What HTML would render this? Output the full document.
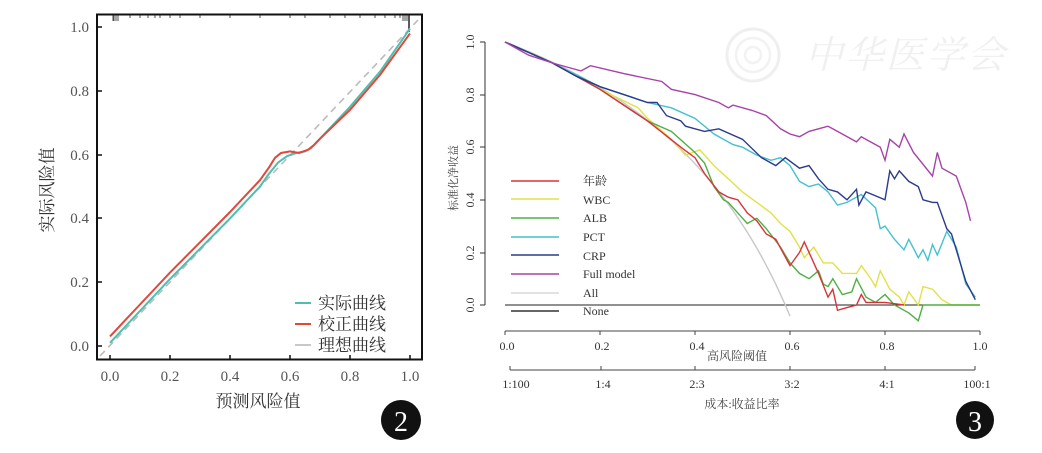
<!DOCTYPE html>
<html><head><meta charset="utf-8"><style>
html,body{margin:0;padding:0;background:#fff;width:1042px;height:453px;overflow:hidden}
svg text{font-family:"Liberation Serif","Noto Serif CJK SC","Noto Sans CJK SC",serif}
</style></head><body>
<svg id="s" width="1042" height="453" viewBox="0 0 1042 453" xmlns="http://www.w3.org/2000/svg">
<!-- watermark -->
<g>
<circle cx="753" cy="55" r="26" fill="none" stroke="#efefef" stroke-width="3"/>
<circle cx="753" cy="55" r="17" fill="none" stroke="#f2f2f2" stroke-width="2.5"/>
<circle cx="753" cy="55" r="8" fill="none" stroke="#f2f2f2" stroke-width="2.5"/>
<text x="805" y="68" font-size="38" fill="#f0f0f0" font-style="italic" textLength="200">中华医学会</text>
</g>

<!-- LEFT CHART -->
<rect x="97" y="14.5" width="325" height="345" fill="none" stroke="#111" stroke-width="2"/>
<g stroke="#222" stroke-width="0.8" id="rug"></g>
<g font-size="15" fill="#555" text-anchor="end">
<text x="89" y="351">0.0</text><text x="89" y="287">0.2</text><text x="89" y="223">0.4</text>
<text x="89" y="160">0.6</text><text x="89" y="96">0.8</text><text x="89" y="32">1.0</text>
</g>
<g stroke="#111" stroke-width="1.5">
<line x1="97" y1="346" x2="102" y2="346"/><line x1="97" y1="282" x2="102" y2="282"/><line x1="97" y1="218" x2="102" y2="218"/>
<line x1="97" y1="155" x2="102" y2="155"/><line x1="97" y1="91" x2="102" y2="91"/><line x1="97" y1="27" x2="102" y2="27"/>
<line x1="110" y1="360" x2="110" y2="355"/><line x1="170" y1="360" x2="170" y2="355"/><line x1="230" y1="360" x2="230" y2="355"/>
<line x1="290" y1="360" x2="290" y2="355"/><line x1="350" y1="360" x2="350" y2="355"/><line x1="410" y1="360" x2="410" y2="355"/>
</g>
<g font-size="15" fill="#555" text-anchor="middle">
<text x="110" y="381">0.0</text><text x="170" y="381">0.2</text><text x="230" y="381">0.4</text>
<text x="290" y="381">0.6</text><text x="350" y="381">0.8</text><text x="410" y="381">1.0</text>
</g>
<text x="258" y="407" font-size="17" fill="#333" text-anchor="middle">预测风险值</text>
<text transform="translate(53,190) rotate(-90)" font-size="17" fill="#333" text-anchor="middle">实际风险值</text>
<line x1="100" y1="356" x2="418" y2="20" stroke="#bbb" stroke-width="1.6" stroke-dasharray="7,5"/>
<path id="lc" fill="none" stroke="#4cc0b0" stroke-width="2"/>
<path id="lr" fill="none" stroke="#e0483a" stroke-width="2"/>
<line x1="295" y1="303" x2="311" y2="303" stroke="#4cc0b0" stroke-width="2"/>
<line x1="295" y1="324" x2="311" y2="324" stroke="#e0483a" stroke-width="2"/>
<line x1="295" y1="345" x2="311" y2="345" stroke="#bbb" stroke-width="1.6"/>
<g font-size="17" fill="#333"><text x="318" y="309">实际曲线</text><text x="318" y="330">校正曲线</text><text x="318" y="351">理想曲线</text></g>
<circle cx="401" cy="420" r="20" fill="#111"/>
<text x="401" y="431" font-size="28" fill="#fff" text-anchor="middle">2</text>

<!-- RIGHT CHART -->
<line x1="485" y1="42" x2="485" y2="305" stroke="#333" stroke-width="1"/>
<g stroke="#333"><line x1="485" y1="42" x2="480" y2="42"/><line x1="485" y1="95" x2="480" y2="95"/><line x1="485" y1="147" x2="480" y2="147"/><line x1="485" y1="200" x2="480" y2="200"/><line x1="485" y1="253" x2="480" y2="253"/><line x1="485" y1="305" x2="480" y2="305"/></g>
<g font-size="12" fill="#333" text-anchor="middle">
<text transform="translate(474,305) rotate(-90)">0.0</text><text transform="translate(474,253) rotate(-90)">0.2</text>
<text transform="translate(474,200) rotate(-90)">0.4</text><text transform="translate(474,147) rotate(-90)">0.6</text>
<text transform="translate(474,95) rotate(-90)">0.8</text><text transform="translate(474,42) rotate(-90)">1.0</text>
</g>
<text transform="translate(457,178) rotate(-90)" font-size="11" fill="#444" text-anchor="middle">标准化净收益</text>
<line x1="505" y1="331" x2="980" y2="331" stroke="#444"/>
<g stroke="#444"><line x1="505" y1="331" x2="505" y2="335"/><line x1="600" y1="331" x2="600" y2="335"/><line x1="695" y1="331" x2="695" y2="335"/><line x1="790" y1="331" x2="790" y2="335"/><line x1="885" y1="331" x2="885" y2="335"/><line x1="980" y1="331" x2="980" y2="335"/></g>
<g font-size="12" fill="#333" text-anchor="middle">
<text x="507" y="350">0.0</text><text x="602" y="350">0.2</text><text x="697" y="350">0.4</text><text x="792" y="350">0.6</text><text x="887" y="350">0.8</text><text x="980" y="350">1.0</text>
</g>
<text x="737" y="360" font-size="12" fill="#444" text-anchor="middle">高风险阈值</text>
<line x1="510" y1="370" x2="975" y2="370" stroke="#444"/>
<g stroke="#444"><line x1="510" y1="370" x2="510" y2="366"/><line x1="601" y1="370" x2="601" y2="366"/><line x1="695" y1="370" x2="695" y2="366"/><line x1="790" y1="370" x2="790" y2="366"/><line x1="885" y1="370" x2="885" y2="366"/><line x1="975" y1="370" x2="975" y2="366"/></g>
<g font-size="12" fill="#333" text-anchor="middle">
<text x="516" y="388">1:100</text><text x="603" y="388">1:4</text><text x="697" y="388">2:3</text><text x="792" y="388">3:2</text><text x="887" y="388">4:1</text><text x="977" y="388">100:1</text>
</g>
<text x="742" y="408" font-size="12" fill="#444" text-anchor="middle">成本:收益比率</text>
<line x1="505" y1="305" x2="980" y2="305" stroke="#222" stroke-width="1"/>
<g id="series"></g>
<g id="legend"></g>
<circle cx="975" cy="420" r="19" fill="#111"/>
<text x="975" y="431" font-size="28" fill="#fff" text-anchor="middle">3</text>
<g font-size="12" fill="#333">
<text x="583" y="185">年龄</text><text x="583" y="204">WBC</text><text x="583" y="222">ALB</text><text x="583" y="241">PCT</text>
<text x="583" y="260">CRP</text><text x="583" y="278">Full model</text><text x="583" y="297">All</text><text x="583" y="315">None</text>
</g>
</svg>
<script>
var NS="http://www.w3.org/2000/svg";
function P(pts,fx,fy){return pts.map(function(p,i){return (i?"L":"M")+fx(p[0]).toFixed(1)+","+fy(p[1]).toFixed(1)}).join("");}
var lx=function(t){return 110+t*300},ly=function(v){return 346-v*319};
document.getElementById("lc").setAttribute("d",P([[0,0.01],[0.1,0.11],[0.2,0.21],[0.3,0.305],[0.4,0.4],[0.45,0.45],[0.5,0.5],[0.53,0.54],[0.56,0.575],[0.59,0.595],[0.62,0.605],[0.65,0.61],[0.67,0.62],[0.7,0.65],[0.8,0.75],[0.9,0.86],[1,0.995]],lx,ly));
document.getElementById("lr").setAttribute("d",P([[0,0.03],[0.1,0.13],[0.2,0.23],[0.3,0.325],[0.4,0.42],[0.45,0.47],[0.5,0.52],[0.53,0.56],[0.55,0.59],[0.57,0.605],[0.6,0.61],[0.63,0.605],[0.66,0.615],[0.68,0.63],[0.7,0.65],[0.8,0.74],[0.9,0.85],[1,0.98]],lx,ly));
var rug=document.getElementById("rug"),xs=[113,114,116,118,130,140,148,155,160,170,180,200,230,260,290,305,330,345,360,375,385,395,400,403,405,407];
xs.forEach(function(x){var l=document.createElementNS(NS,"line");l.setAttribute("x1",x);l.setAttribute("x2",x);l.setAttribute("y1",15);l.setAttribute("y2",x>400||x<120?21:18);rug.appendChild(l);});
var b=document.createElementNS(NS,"line");b.setAttribute("x1",409);b.setAttribute("x2",409);b.setAttribute("y1",15);b.setAttribute("y2",32);b.setAttribute("stroke-width","1.5");rug.appendChild(b);
var rx=function(t){return 505+t*475},ry=function(v){return 305-v*263};
var all=[];for(var t=0;t<=0.607;t+=0.01){var p=0.59;all.push([t,(p-(1-p)*t/(1-t))/p]);}
var S=[
["#c8c8c8",all],
["#e2e14a",[[0,1],[0.1,0.92],[0.2,0.82],[0.28,0.75],[0.3,0.71],[0.35,0.63],[0.38,0.57],[0.41,0.59],[0.44,0.53],[0.47,0.48],[0.5,0.43],[0.53,0.39],[0.56,0.35],[0.58,0.31],[0.6,0.28],[0.62,0.22],[0.63,0.18],[0.65,0.22],[0.67,0.16],[0.69,0.16],[0.71,0.12],[0.74,0.12],[0.75,0.15],[0.77,0.1],[0.78,0.07],[0.79,0.13],[0.81,0.06],[0.83,0.03],[0.84,0],[0.85,0.05],[0.87,0],[0.88,0.07],[0.9,0.06],[0.92,0.02],[0.94,0],[1,0]]],
["#4eb044",[[0,1],[0.1,0.92],[0.2,0.82],[0.3,0.7],[0.35,0.66],[0.4,0.58],[0.42,0.54],[0.44,0.45],[0.46,0.4],[0.47,0.39],[0.5,0.33],[0.51,0.31],[0.53,0.33],[0.55,0.29],[0.58,0.22],[0.6,0.16],[0.62,0.12],[0.64,0.1],[0.66,0.13],[0.67,0.08],[0.68,0.07],[0.69,0.1],[0.71,0.04],[0.73,0.05],[0.74,0.1],[0.76,0.03],[0.78,0.01],[0.8,0.04],[0.82,0],[0.85,-0.03],[0.87,-0.06],[0.88,0],[1,0]]],
["#d9333a",[[0,1],[0.1,0.92],[0.2,0.82],[0.3,0.7],[0.37,0.6],[0.4,0.56],[0.42,0.5],[0.45,0.43],[0.47,0.41],[0.49,0.4],[0.51,0.35],[0.53,0.32],[0.55,0.27],[0.57,0.25],[0.6,0.15],[0.62,0.2],[0.63,0.24],[0.66,0.12],[0.68,0.03],[0.69,0.06],[0.7,-0.02],[0.72,-0.01],[0.74,0],[0.75,0.04],[0.76,0.01],[0.8,0.01],[0.84,0]]],
["#45c0cf",[[0,1],[0.1,0.92],[0.2,0.83],[0.25,0.8],[0.3,0.77],[0.35,0.75],[0.4,0.71],[0.44,0.65],[0.48,0.61],[0.5,0.6],[0.53,0.57],[0.56,0.55],[0.58,0.56],[0.6,0.53],[0.62,0.47],[0.64,0.45],[0.66,0.46],[0.68,0.43],[0.7,0.38],[0.72,0.39],[0.75,0.42],[0.78,0.37],[0.79,0.29],[0.8,0.3],[0.82,0.25],[0.84,0.21],[0.85,0.25],[0.87,0.18],[0.88,0.21],[0.89,0.17],[0.9,0.23],[0.91,0.19],[0.93,0.28],[0.95,0.22],[0.97,0.08],[0.99,0.03]]],
["#2b3b8a",[[0,1],[0.1,0.92],[0.15,0.87],[0.2,0.83],[0.25,0.8],[0.3,0.77],[0.32,0.77],[0.34,0.72],[0.37,0.7],[0.38,0.68],[0.42,0.66],[0.45,0.67],[0.5,0.63],[0.54,0.56],[0.57,0.53],[0.59,0.56],[0.62,0.52],[0.64,0.53],[0.66,0.48],[0.68,0.44],[0.7,0.43],[0.72,0.4],[0.74,0.44],[0.745,0.38],[0.76,0.43],[0.8,0.4],[0.81,0.51],[0.82,0.48],[0.83,0.51],[0.85,0.47],[0.87,0.45],[0.88,0.4],[0.9,0.39],[0.91,0.39],[0.93,0.29],[0.94,0.27],[0.97,0.09],[0.99,0.02]]],
["#a743a8",[[0,1],[0.05,0.95],[0.1,0.92],[0.13,0.905],[0.16,0.89],[0.18,0.91],[0.25,0.88],[0.33,0.85],[0.35,0.82],[0.4,0.8],[0.45,0.77],[0.47,0.75],[0.48,0.76],[0.52,0.74],[0.55,0.72],[0.58,0.67],[0.6,0.65],[0.62,0.64],[0.64,0.66],[0.66,0.67],[0.68,0.68],[0.7,0.66],[0.74,0.62],[0.75,0.64],[0.79,0.6],[0.8,0.55],[0.81,0.63],[0.83,0.6],[0.84,0.65],[0.86,0.58],[0.9,0.49],[0.91,0.58],[0.92,0.52],[0.95,0.49],[0.97,0.39],[0.98,0.32]]]
];
var g=document.getElementById("series");
S.forEach(function(s){var p=document.createElementNS(NS,"path");p.setAttribute("d",P(s[1],rx,ry));p.setAttribute("fill","none");p.setAttribute("stroke",s[0]);p.setAttribute("stroke-width","1.4");g.appendChild(p);});
var lg=document.getElementById("legend"),cols=["#d9333a","#e2e14a","#4eb044","#45c0cf","#2b3b8a","#a743a8","#d8d8d8","#333"],ys=[181,199,218,237,255,274,293,311];
cols.forEach(function(c,i){var l=document.createElementNS(NS,"line");l.setAttribute("x1",511);l.setAttribute("x2",559);l.setAttribute("y1",ys[i]);l.setAttribute("y2",ys[i]);l.setAttribute("stroke",c);l.setAttribute("stroke-width","1.4");lg.appendChild(l);});
</script>
</body></html>
